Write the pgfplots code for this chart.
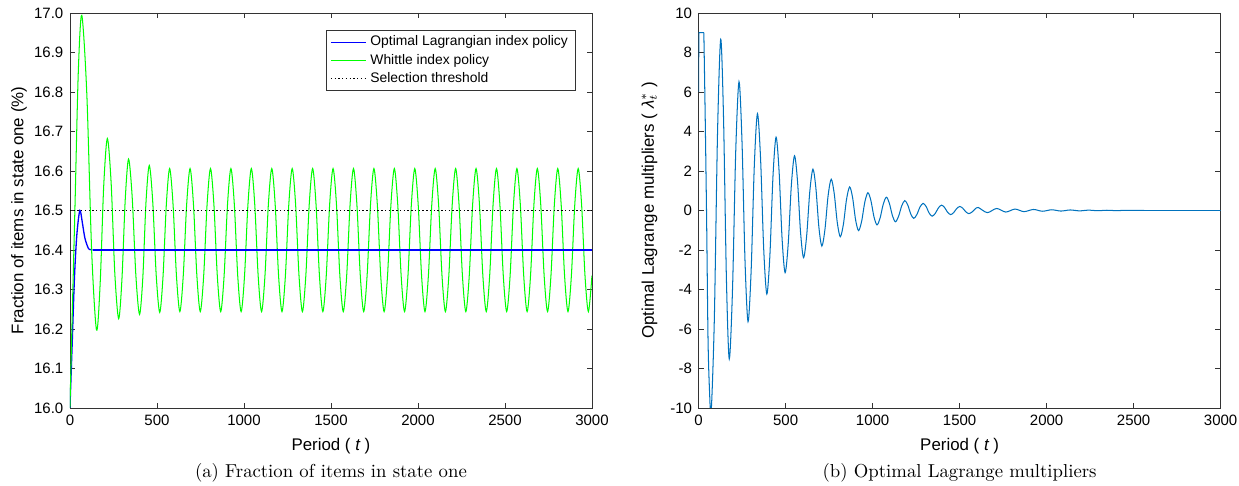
\documentclass[border=0pt]{standalone}
\usepackage{fontspec}
\usepackage{pgfplots}
\pgfplotsset{compat=1.18}
\newfontfamily\arial{Liberation Sans}
\definecolor{mlblue}{rgb}{0,0.447,0.741}

\begin{document}
\begin{tikzpicture}
\pgfplotsset{
  every axis/.append style={
    scale only axis, width=278.4pt, height=210.7pt,
    xmin=0, xmax=3000, xtick={0,500,1000,1500,2000,2500,3000},
    tick align=inside, major tick length=2.8pt,
    axis line style={black!80}, tick style={black!80},
    tick label style={font=\arial\footnotesize},
    label style={font=\arial\small},
    /pgf/number format/assume math mode=true,
    xticklabel style={/pgf/number format/1000 sep={}},
    xlabel={Period ( {\itshape t} )},
  },
}
% (a) fraction of items in state one
\begin{axis}[
  name=L, at={(0,0)}, anchor=south west,
  ymin=16, ymax=17,
  ytick={16,16.1,16.2,16.3,16.4,16.5,16.6,16.7,16.8,16.9,17},
  yticklabel style={/pgf/number format/.cd,fixed,fixed zerofill,precision=1},
  ylabel={Fraction of items in state one (\%)},
  ylabel shift=-3pt,
  legend style={at={(0.969,0.957)}, anchor=north east,
    font=\arial\fontsize{7.4}{8.6}\selectfont,
    draw=black!80, inner xsep=2pt, inner ysep=1pt, row sep=-1.2pt},
  legend cell align=left,
  legend image code/.code={\draw[#1] (0cm,0cm) -- (0.66cm,0cm);},
]
\addplot[blue, line width=0.7pt, smooth] coordinates {
  (0,16.0) (12,16.15) (26,16.33) (40,16.44) (57,16.5) (71,16.47) (86,16.43)
  (106,16.404) (118,16.401) (130,16.4)
};
\addlegendentry{Optimal Lagrangian index policy}
\addplot[green, line width=0.55pt, smooth] coordinates {
  (0,16.000) (14,16.250) (29,16.510) (48,16.850) (68,16.994) (97,16.795) (125,16.396)
  (153,16.197) (174,16.318) (194,16.561) (215,16.682) (237,16.568) (258,16.340)
  (280,16.226) (299,16.327) (318,16.529) (337,16.630) (358,16.532) (379,16.335)
  (400,16.237) (419,16.331) (437,16.520) (456,16.614) (476,16.521) (496,16.335)
  (516,16.242) (535,16.333) (554,16.515) (573,16.606)
  (592.6,16.515) (612.1,16.335) (631.7,16.244) (651.3,16.335) (670.8,16.515) (690.4,16.606)
  (710.0,16.515) (729.5,16.335) (749.1,16.244) (768.7,16.335) (788.2,16.515) (807.8,16.606)
  (827.4,16.515) (846.9,16.335) (866.5,16.244) (886.1,16.335) (905.6,16.515) (925.2,16.606)
  (944.8,16.515) (964.3,16.335) (983.9,16.244) (1003.5,16.335) (1023.0,16.515) (1042.6,16.606)
  (1062.2,16.515) (1081.7,16.335) (1101.3,16.244) (1120.9,16.335) (1140.4,16.515) (1160.0,16.606)
  (1179.6,16.515) (1199.1,16.335) (1218.7,16.244) (1238.3,16.335) (1257.8,16.515) (1277.4,16.606)
  (1297.0,16.515) (1316.5,16.335) (1336.1,16.244) (1355.7,16.335) (1375.2,16.515) (1394.8,16.606)
  (1414.4,16.515) (1433.9,16.335) (1453.5,16.244) (1473.1,16.335) (1492.6,16.515) (1512.2,16.606)
  (1531.8,16.515) (1551.3,16.335) (1570.9,16.244) (1590.5,16.335) (1610.0,16.515) (1629.6,16.606)
  (1649.2,16.515) (1668.7,16.335) (1688.3,16.244) (1707.9,16.335) (1727.4,16.515) (1747.0,16.606)
  (1766.6,16.515) (1786.1,16.335) (1805.7,16.244) (1825.3,16.335) (1844.8,16.515) (1864.4,16.606)
  (1884.0,16.515) (1903.5,16.335) (1923.1,16.244) (1942.7,16.335) (1962.2,16.515) (1981.8,16.606)
  (2001.4,16.515) (2020.9,16.335) (2040.5,16.244) (2060.1,16.335) (2079.6,16.515) (2099.2,16.606)
  (2118.8,16.515) (2138.3,16.335) (2157.9,16.244) (2177.5,16.335) (2197.0,16.515) (2216.6,16.606)
  (2236.2,16.515) (2255.7,16.335) (2275.3,16.244) (2294.9,16.335) (2314.4,16.515) (2334.0,16.606)
  (2353.6,16.515) (2373.1,16.335) (2392.7,16.244) (2412.3,16.335) (2431.8,16.515) (2451.4,16.606)
  (2471.0,16.515) (2490.5,16.335) (2510.1,16.244) (2529.7,16.335) (2549.2,16.515) (2568.8,16.606)
  (2588.4,16.515) (2607.9,16.335) (2627.5,16.244) (2647.1,16.335) (2666.6,16.515) (2686.2,16.606)
  (2705.8,16.515) (2725.3,16.335) (2744.9,16.244) (2764.5,16.335) (2784.0,16.515) (2803.6,16.606)
  (2823.2,16.515) (2842.7,16.335) (2862.3,16.244) (2881.9,16.335) (2901.4,16.515) (2921.0,16.606)
  (2940.6,16.515) (2960.1,16.335) (2979.7,16.244) (3000,16.335)
};
\addlegendentry{Whittle index policy}
\addplot[black, line width=0.5pt, dash pattern=on 0.7pt off 1.3pt] coordinates {
  (0,16.5) (3000,16.5)
};
\addlegendentry{Selection threshold}
% steady part of the Lagrangian policy
\addplot[blue, line width=0.7pt, forget plot] coordinates {
  (130,16.4) (3000,16.4)
};
\end{axis}

% (b) optimal Lagrange multipliers
\begin{axis}[
  name=R, at={(335.3pt,0)}, anchor=south west,
  ymin=-10, ymax=10,
  ytick={-10,-8,-6,-4,-2,0,2,4,6,8,10},
  ylabel={Optimal Lagrange multipliers ( {\itshape λ}${}^{*}_{t}$ )},
]
\addplot[mlblue, line width=0.55pt] coordinates {
  (0,6.0) (1,9.0) (30,9.0)
};
\addplot[mlblue, line width=0.55pt, smooth] coordinates {
  (30,9.0) (38,4.6) (46,-0.5) (54,-6.5) (62,-9.0) (72,-10.2)
  (90.3,-5.48) (108.7,3.95) (127,8.67)
  (143.3,4.62) (159.7,-3.47) (176,-7.52)
  (194.7,-4.01) (213.3,3.01) (232,6.52)
  (249.3,3.48) (266.7,-2.59) (284,-5.63)
  (302,-3.00) (320,2.27) (338,4.90)
  (356,2.62) (374,-1.95) (392,-4.23)
  (409.7,-2.25) (427.3,1.73) (445,3.71)
  (462.3,2.00) (479.7,-1.44) (497,-3.15)
  (515,-1.67) (533,1.29) (551,2.77)
  (568.3,1.48) (585.7,-1.10) (603,-2.39)
  (621,-1.27) (639,0.97) (657,2.09)
  (674,1.12) (691,-0.83) (708,-1.80)
  (726,-0.96) (744,0.74) (762,1.58)
  (779.3,0.85) (796.7,-0.60) (814,-1.33)
  (832,-0.70) (850,0.56) (868,1.19)
  (885,0.64) (902,-0.47) (919,-1.02)
  (937,-0.54) (955,0.42) (973,0.90)
  (990.3,0.49) (1007.7,-0.32) (1025,-0.73)
  (1043,-0.38) (1061,0.32) (1079,0.67)
  (1096.3,0.36) (1113.7,-0.26) (1131,-0.57)
  (1149,-0.30) (1167,0.23) (1185,0.50)
  (1202,0.275) (1219,-0.175) (1236,-0.40)
  (1254,-0.21) (1272,0.17) (1290,0.36)
  (1307.3,0.20) (1324.7,-0.13) (1342,-0.29)
  (1360,-0.15) (1378,0.13) (1396,0.27)
  (1413.3,0.15) (1430.7,-0.09) (1448,-0.21)
  (1465.7,-0.11) (1483.3,0.10) (1501,0.20)
  (1518.3,0.11) (1535.7,-0.07) (1553,-0.16)
  (1571,-0.08) (1589,0.07) (1607,0.15)
  (1659,-0.11) (1712,0.10) (1765,-0.08) (1818,0.07) (1870,-0.06)
  (1924,0.05) (1976,-0.04) (2029,0.035) (2082,-0.03) (2135,0.025)
  (2188,-0.02) (2240,0.015) (2293,-0.012) (2346,0.01) (2399,-0.008)
  (2452,0.005) (2505,0) (2560,0)
};
\addplot[mlblue, line width=0.55pt] coordinates {
  (2560,0) (3000,0)
};
\end{axis}

\node at ([yshift=-34.6pt]L.south) {(a) Fraction of items in state one};
\node at ([yshift=-34.6pt]R.south) {(b) Optimal Lagrange multipliers};

\pgfresetboundingbox
\path (-37.3pt,-41.1pt) rectangle (623.5pt,217.6pt);
\end{tikzpicture}
\end{document}
